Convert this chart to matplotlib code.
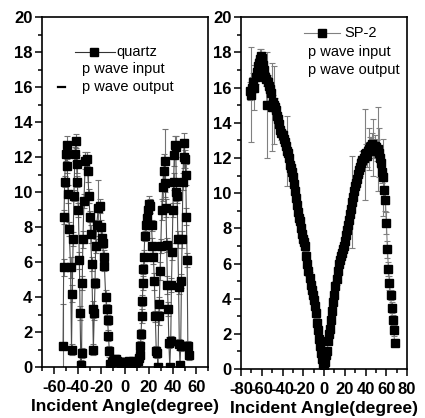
import matplotlib
matplotlib.use('Agg')
import matplotlib.pyplot as plt
from matplotlib.ticker import MultipleLocator

plt.rcParams['font.family'] = ['Liberation Sans', 'DejaVu Sans']
plt.rcParams['axes.unicode_minus'] = False

# quartz, p wave in / p wave out (left panel)
quartz_angle = [
    -52.3, -51.8, -51.5, -51.0, -50.1, -49.4, -48.9, -48.0, -47.2, -46.0,
    -45.2, -44.6, -43.8, -43.2, -42.3, -41.5, -40.9, -40.3, -39.4, -38.6,
    -38.0, -37.3, -36.7, -36.2, -35.6, -34.7, -33.6, -32.5, -31.6, -30.5,
    -29.7, -29.1, -28.2, -27.4, -26.8, -26.0, -25.4, -24.9, -24.0, -22.6,
    -21.2, -20.5, -19.8, -18.9, -18.2, -17.5, -16.4, -15.5, -14.8, -14.1,
    -13.3, -12.5,
    -11.5, -10.5, -9.5, -8.5, -7.5, -6.5, -5.5, -4.5, -3.5, -2.5, -1.5, -0.5,
    0.5, 1.5, 2.5, 3.5, 4.5, 5.5, 6.5, 7.5, 8.5, 9.5, 10.5, 11.5,
    12.3, 12.9, 13.4, 14.0, 14.5, 15.0, 15.4, 15.9, 16.5, 17.3,
    18.1, 19.0, 20.2, 21.3, 22.2, 23.0, 23.8, 24.6, 25.4, 26.2,
    27.0, 27.6, 28.2, 28.8, 29.4, 30.0, 30.8, 31.6, 32.4, 33.2,
    33.8, 34.4, 35.0, 35.6, 36.2, 36.8, 37.6, 38.4, 39.0, 39.6,
    40.2, 40.8, 41.4, 42.0, 42.6, 43.2, 43.8, 44.4, 45.0, 45.6,
    46.2, 46.8, 47.4, 48.0, 48.6, 49.2, 49.8, 50.4, 51.0, 51.6,
    52.2, 52.8, 53.4]
quartz_val = [
    1.2, 5.7, 8.6, 10.6, 12.2, 12.7, 11.5, 9.9, 7.9, 5.7,
    1.0, 4.2, 7.3, 9.8, 12.2, 12.9, 11.6, 10.6, 9.0, 6.1,
    3.1, 0.1, 0.8, 4.8, 7.3, 9.5, 11.8, 11.9, 11.2, 9.8,
    8.6, 7.6, 5.9, 3.3, 1.0, 3.1, 4.8, 6.9, 8.1, 9.1,
    9.2, 8.0, 7.4, 7.1, 6.3, 5.8, 4.0, 3.3, 2.7, 1.8,
    0.9, 0.2,
    0.3, 0.35, 0.4, 0.45, 0.45, 0.35, 0.3, 0.3, 0.25, 0.3, 0.2, 0.25,
    0.3, 0.25, 0.3, 0.35, 0.3, 0.3, 0.35, 0.3, 0.25, 0.3, 0.35, 0.5,
    0.7, 1.2, 1.9, 2.9, 3.8, 4.8, 5.6, 6.3, 7.5, 8.1,
    8.5, 9.0, 9.3, 9.2, 8.1, 6.9, 6.3, 4.9, 2.9, 0.9,
    0.8, 0.0, 2.9, 3.6, 5.5, 6.9, 9.0, 10.3, 11.2, 11.8,
    10.5, 9.1, 7.0, 4.7, 3.3, 1.4, 0.0, 1.5, 4.7, 6.6,
    9.0, 10.6, 12.1, 12.7, 12.6, 10.0, 9.8, 7.3, 4.6, 1.3,
    0.1, 1.2, 4.9, 7.3, 10.6, 12.0, 12.8, 11.9, 11.0, 8.6,
    6.1, 1.2, 0.7]
quartz_err = [
    2.4, 0.5, 0.4, 0.3, 0.4, 0.5, 0.4, 0.5, 0.4, 0.6,
    0.3, 0.5, 0.4, 0.3, 0.4, 0.4, 0.5, 0.3, 0.4, 0.5,
    0.4, 0.3, 0.3, 0.4, 0.5, 0.4, 0.5, 0.4, 0.6, 0.4,
    0.3, 0.5, 0.4, 0.5, 0.3, 0.4, 0.3, 0.4, 0.3, 1.6,
    0.4, 0.4, 0.5, 0.3, 0.4, 0.3, 0.4, 0.3, 0.3, 0.3,
    0.3, 0.2,
    0.1, 0.1, 0.1, 0.1, 0.1, 0.1, 0.1, 0.1, 0.1, 0.1, 0.1, 0.1,
    0.1, 0.1, 0.1, 0.1, 0.1, 0.1, 0.1, 0.1, 0.1, 0.1, 0.1, 0.2,
    0.3, 0.3, 0.3, 0.4, 0.3, 0.4, 0.3, 0.4, 0.3, 0.4,
    0.3, 0.4, 0.5, 0.4, 0.3, 0.5, 0.4, 0.5, 0.3, 0.3,
    0.3, 0.2, 0.5, 0.4, 0.5, 0.4, 0.6, 0.8, 1.0, 1.8,
    0.8, 0.5, 0.4, 0.5, 0.4, 0.3, 0.2, 0.3, 0.4, 0.5,
    0.4, 0.5, 0.6, 0.5, 0.6, 0.5, 0.4, 0.5, 0.4, 0.3,
    0.2, 0.3, 0.4, 0.5, 0.5, 0.6, 0.6, 0.5, 0.6, 0.5,
    0.4, 0.3, 0.3]

# SP-2 (right panel)
sp2_angle = [
    -71, -70, -69, -68, -67, -66, -65, -64, -63, -62,
    -61, -60, -59, -58, -57, -56, -55, -54, -53, -52,
    -51, -50, -49, -48, -47, -46, -45, -44, -43, -42,
    -41, -40, -39, -38, -37, -36, -35, -34, -33, -32,
    -31, -30, -29, -28, -27, -26, -25, -24, -23, -22,
    -21, -20, -19, -18, -17, -16, -15, -14, -13, -12,
    -11, -10, -9, -8, -7, -6, -5, -4, -3, -2,
    -1, 0, 1, 2, 3, 4, 5, 6, 7, 8,
    9, 10, 11, 12, 13, 14, 15, 16, 17, 18,
    19, 20, 21, 22, 23, 24, 25, 26, 27, 28,
    29, 30, 31, 32, 33, 34, 35, 36, 37, 38,
    39, 40, 41, 42, 43, 44, 45, 46, 47, 48,
    49, 50, 51, 52, 53, 54, 55, 56, 57, 58,
    59, 60, 61, 62, 63, 64, 65, 66, 67, 68]
sp2_val = [
    15.8, 15.6, 16.0, 16.3, 16.0, 16.6, 16.9, 17.2, 17.4, 17.6,
    17.8, 17.7, 17.3, 17.0, 16.6, 16.5, 15.0, 16.3, 16.1, 15.9,
    15.7, 14.9, 15.2, 15.0, 14.9, 14.7, 14.4, 14.2, 13.9, 13.6,
    13.4, 13.3, 13.1, 12.9, 12.7, 12.4, 12.3, 12.0, 11.6, 11.4,
    11.2, 10.9, 10.5, 10.1, 9.7, 9.3, 8.9, 8.6, 8.4, 8.0,
    7.7, 7.4, 7.2, 7.0, 6.4, 6.0, 5.6, 5.2, 4.8, 4.5,
    4.2, 3.9, 3.6, 3.2, 2.6, 2.2, 1.7, 1.3, 0.9, 0.6,
    0.3, 0.1, 0.4, 0.8, 1.0, 1.6, 2.0, 2.3, 2.8, 3.3,
    3.8, 4.2, 4.7, 5.1, 5.6, 6.0, 6.2, 6.4, 6.6, 6.8,
    7.0, 7.3, 7.6, 7.9, 8.2, 8.5, 8.8, 9.1, 9.5, 9.8,
    10.1, 10.4, 10.6, 10.8, 11.1, 11.3, 11.5, 11.7, 11.9, 12.0,
    12.2, 12.3, 12.1, 12.4, 12.5, 12.6, 12.7, 12.8, 12.6, 12.5,
    12.7, 12.6, 12.4, 12.5, 12.3, 12.0, 11.7, 11.2, 10.9, 10.2,
    9.6, 8.3, 6.8, 5.7, 4.9, 4.2, 3.5, 2.8, 2.2, 1.5]
sp2_err = [
    0.5, 2.7, 0.6, 0.5, 1.3, 0.4, 0.4, 0.5, 0.3, 0.6,
    0.4, 0.3, 0.4, 0.5, 0.3, 0.4, 3.0, 0.4, 0.5, 0.3,
    0.4, 2.5, 0.4, 2.2, 0.5, 0.4, 0.3, 0.4, 0.3, 0.3,
    0.4, 0.3, 0.3, 0.3, 0.4, 2.0, 0.3, 0.3, 0.3, 0.3,
    0.3, 0.3, 0.3, 0.3, 0.3, 0.3, 0.3, 0.4, 0.3, 0.3,
    0.3, 0.4, 0.3, 0.3, 0.3, 0.3, 0.3, 0.3, 0.3, 0.3,
    0.3, 0.3, 0.3, 0.3, 0.3, 0.2, 0.2, 0.2, 0.2, 0.2,
    0.2, 0.2, 0.2, 0.2, 0.2, 0.2, 0.2, 0.2, 0.2, 0.3,
    0.3, 0.3, 0.3, 0.3, 0.3, 0.3, 0.3, 0.3, 0.3, 0.3,
    0.3, 0.3, 0.3, 0.3, 0.3, 0.3, 0.3, 0.3, 2.6, 0.4,
    0.4, 0.3, 0.4, 0.3, 0.4, 0.4, 0.5, 0.4, 0.5, 0.4,
    2.6, 0.5, 0.6, 0.5, 1.2, 0.6, 0.5, 0.6, 1.6, 0.5,
    0.6, 0.5, 0.6, 2.4, 1.4, 0.6, 0.5, 0.6, 2.2, 0.5,
    0.6, 0.6, 0.5, 0.4, 0.4, 0.3, 0.3, 0.3, 0.3, 0.2]

fig = plt.figure(figsize=(4.25, 4.18), dpi=100)
ax1 = fig.add_axes([0.099, 0.122, 0.391, 0.837])
ax2 = fig.add_axes([0.567, 0.117, 0.391, 0.842])

ax1.errorbar(quartz_angle, quartz_val, yerr=quartz_err, fmt='none',
             ecolor='0.45', elinewidth=0.8, capsize=2.5, capthick=0.8)
ax1.plot(quartz_angle, quartz_val, color='0.3', lw=0.8, marker='s', ms=5.6,
         mfc='black', mec='black')

ax2.errorbar(sp2_angle, sp2_val, yerr=sp2_err, fmt='none',
             ecolor='0.5', elinewidth=0.8, capsize=2.5, capthick=0.8)
ax2.plot(sp2_angle, sp2_val, color='0.5', lw=0.8, marker='s', ms=5.6,
         mfc='black', mec='black')

for ax, lim, step in [(ax1, 70, 20), (ax2, 80, 20)]:
    ax.set_xlim(-lim, lim)
    ax.set_ylim(0, 20)
    ax.xaxis.set_major_locator(MultipleLocator(step))
    ax.xaxis.set_minor_locator(MultipleLocator(10))
    ax.yaxis.set_major_locator(MultipleLocator(2))
    ax.yaxis.set_minor_locator(MultipleLocator(1))
    ax.tick_params(which='both', direction='out', width=1.1, top=False, right=False)
    ax.tick_params(which='major', length=5, labelsize=12, pad=2)
    ax.tick_params(axis='x', which='major', pad=4)
    ax.tick_params(which='minor', length=3)
    for lab in ax.get_xticklabels() + ax.get_yticklabels():
        lab.set_fontweight('bold')
    for sp in ax.spines.values():
        sp.set_linewidth(1.2)
    ax.set_xlabel('Incident Angle(degree)', fontsize=12.5, fontweight='bold', labelpad=3)

# legend-like annotations, left
ax1.plot([0.20, 0.44], [0.90, 0.90], color='0.2', lw=0.8, transform=ax1.transAxes)
ax1.plot([0.31], [0.90], 's', color='black', ms=5.6, transform=ax1.transAxes)
ax1.text(0.45, 0.90, 'quartz', fontsize=10.5, va='center', transform=ax1.transAxes)
ax1.text(0.24, 0.851, 'p wave input', fontsize=10.5, va='center', transform=ax1.transAxes)
ax1.plot([0.096, 0.14], [0.80, 0.80], color='black', lw=1.6, transform=ax1.transAxes)
ax1.text(0.24, 0.80, 'p wave output', fontsize=10.5, va='center', transform=ax1.transAxes)

# legend-like annotations, right
ax2.plot([0.378, 0.598], [0.955, 0.955], color='0.5', lw=0.8, transform=ax2.transAxes)
ax2.plot([0.488], [0.955], 's', color='black', ms=5.6, transform=ax2.transAxes)
ax2.text(0.625, 0.955, 'SP-2', fontsize=10.5, va='center', transform=ax2.transAxes)
ax2.text(0.404, 0.901, 'p wave input', fontsize=10.5, va='center', transform=ax2.transAxes)
ax2.text(0.404, 0.849, 'p wave output', fontsize=10.5, va='center', transform=ax2.transAxes)

fig.savefig('out.png', dpi=100)
